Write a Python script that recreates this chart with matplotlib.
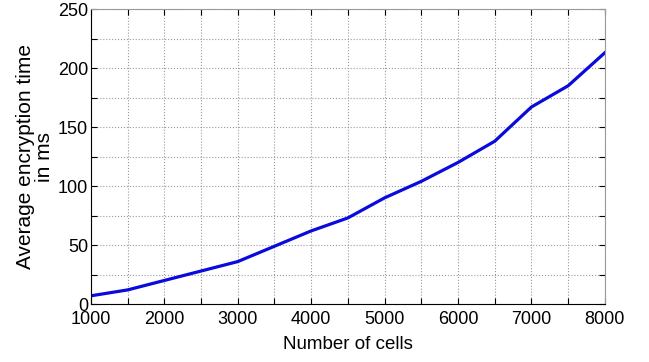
import matplotlib
matplotlib.use('Agg')
import matplotlib.pyplot as plt
from matplotlib.ticker import MultipleLocator

plt.rcParams['font.family'] = ['Liberation Sans', 'DejaVu Sans']

# values
cells = [1000, 1500, 2000, 2500, 3000, 3500, 4000, 4500,
         5000, 5500, 6000, 6500, 7000, 7500, 8000]
enc_time = [7, 12, 20, 28, 36, 49, 62, 73,
            90, 104, 120, 138, 167, 185, 213]

fig = plt.figure(figsize=(6.49, 3.62), dpi=100)
ax = fig.add_axes([0.140, 0.160, 0.792, 0.815])

ax.plot(cells, enc_time, color='#0a0adc', linewidth=2.3)

ax.set_xlim(1000, 8000)
ax.set_ylim(0, 250)
ax.xaxis.set_major_locator(MultipleLocator(1000))
ax.xaxis.set_minor_locator(MultipleLocator(500))
ax.yaxis.set_major_locator(MultipleLocator(50))
ax.yaxis.set_minor_locator(MultipleLocator(25))

ax.grid(True, which='both', linestyle=':', color='#999999', linewidth=0.8)
ax.tick_params(which='both', direction='in', top=True, right=True,
               length=4, width=0.8, labelsize=13)
ax.tick_params(axis='x', pad=5)
ax.tick_params(axis='y', pad=2)

for s in ['top', 'right']:
    ax.spines[s].set_color('#999999')
for s in ['left', 'bottom']:
    ax.spines[s].set_color('black')

ax.set_xlabel('Number of cells', fontsize=13.5, labelpad=6)
ax.set_ylabel('Average encryption time\nin ms', fontsize=15, labelpad=3,
              multialignment='center', linespacing=1.0)

fig.savefig('out.png', dpi=100)
